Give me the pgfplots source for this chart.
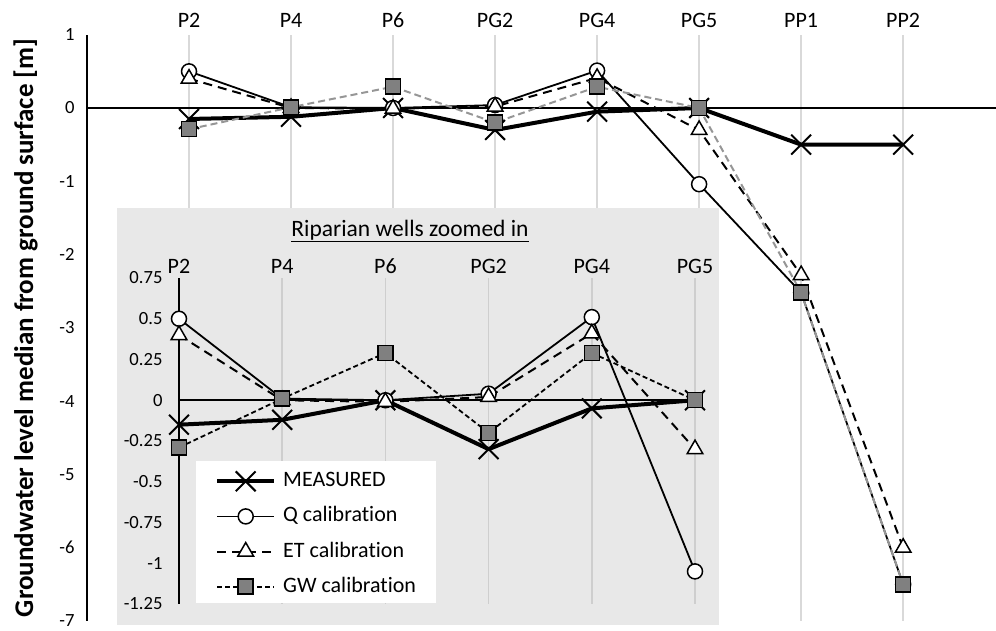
\documentclass[border=0pt]{standalone}
\usepackage{fontspec}
\setmainfont{Carlito}[Ligatures=NoCommon]
\usepackage{pgfplots}
\usepackage{pgfplotstable}
\pgfplotsset{compat=1.18}
\definecolor{gridmain}{RGB}{217,217,217}
\definecolor{gridinset}{RGB}{206,206,206}
\definecolor{insetbg}{RGB}{232,232,232}
\definecolor{gwfill}{RGB}{128,128,128}
\definecolor{gwline}{RGB}{150,150,150}

% all wells
\pgfplotstableread{
x   M      Q      ET     GW
1  -0.15   0.50   0.40  -0.29
2  -0.12   0.01   0.00   0.01
3   0.00   0.00  -0.01   0.29
4  -0.30   0.04   0.02  -0.20
5  -0.05   0.51   0.41   0.29
6   0.00  -1.04  -0.30   0.00
7  -0.50  -2.52  -2.28  -2.52
8  -0.50  -6.50  -6.00  -6.50
}\allwells

% riparian wells (inset)
\pgfplotstableread{
x   M      Q      ET     GW
1  -0.15   0.50   0.40  -0.29
2  -0.12   0.01   0.00   0.01
3   0.00   0.00  -0.01   0.29
4  -0.30   0.04   0.02  -0.20
5  -0.05   0.51   0.41   0.29
6   0.00  -1.05  -0.30   0.00
}\riparian

\pgfplotsset{
  meas/.style={black, line width=4pt, line join=round, mark=x, mark size=14pt,
    mark options={line width=2pt, solid}},
  qcal/.style={black, line width=1.8pt, mark=*, mark size=7.5pt,
    mark options={fill=white, draw=black, line width=1.5pt, solid}},
  etcal/.style={black, line width=2pt, dash pattern=on 9pt off 6pt, mark=triangle*, mark size=9pt,
    mark options={fill=white, draw=black, line width=1.5pt, solid}},
  gwcal/.style={black, line width=1.8pt, dash pattern=on 5pt off 3pt, mark=square*, mark size=7.5pt,
    mark options={fill=gwfill, draw=black, line width=1.5pt, solid}},
  gwmain/.style={gwline, line width=2pt, dash pattern=on 7pt off 4pt, mark=square*, mark size=7.5pt,
    mark options={fill=gwfill, draw=black, line width=1.5pt, solid}},
}

\begin{document}
\begin{tikzpicture}
\useasboundingbox (0,0) rectangle (996pt,631pt);
\begin{axis}[
  at={(87pt,10pt)}, anchor=south west,
  scale only axis, width=909pt, height=586.3pt,
  xmin=0, xmax=8.91, ymin=-7, ymax=1,
  axis line style={draw=none},
  xtick={1,...,8}, xticklabels={P2,P4,P6,PG2,PG4,PG5,PP1,PP2},
  xticklabel pos=upper,
  ytick={-7,-6,-5,-4,-3,-2,-1,0,1},
  major tick length=0pt,
  xmajorgrids, grid style={draw=gridmain, line width=2pt},
  xticklabel style={font=\fontsize{22}{26}\selectfont, yshift=3.4pt},
  yticklabel style={font=\fontsize{18.6}{22}\selectfont, xshift=-9pt},
  /pgf/number format/assume math mode=true,
  ylabel={Groundwater level median from ground surface [m]},
  every axis y label/.style={at={(axis description cs:-0.0594,0.5)}, rotate=90, anchor=base,
    font=\fontsize{27}{32}\selectfont\bfseries},
  clip=false,
]
\draw[black, line width=1.2pt] (axis cs:0,0) -- (axis cs:8.91,0);
\draw[black, line width=2.2pt] (axis cs:0,-7) -- (axis cs:0,1);
\addplot[meas] table[x=x, y=M] {\allwells};
\addplot[qcal] table[x=x, y=Q] {\allwells};
\addplot[etcal] table[x=x, y=ET] {\allwells};
\addplot[gwmain] table[x=x, y=GW] {\allwells};
\end{axis}

\fill[insetbg] (117pt,6pt) rectangle (719pt,423pt);

\begin{axis}[
  at={(179pt,27pt)}, anchor=south west,
  scale only axis, width=516pt, height=326pt,
  xmin=1, xmax=6, ymin=-1.25, ymax=0.75,
  axis line style={draw=none},
  xtick={1,...,6}, xticklabels={P2,P4,P6,PG2,PG4,PG5},
  xticklabel pos=upper,
  ytick={-1.25,-1,-0.75,-0.5,-0.25,0,0.25,0.5,0.75},
  major tick length=0pt,
  xmajorgrids, grid style={draw=gridinset, line width=1.5pt},
  xticklabel style={font=\fontsize{22}{26}\selectfont, yshift=0.7pt},
  yticklabel style={font=\fontsize{18.6}{22}\selectfont, xshift=-13pt},
  /pgf/number format/assume math mode=true,
  title={\underline{Riparian wells zoomed in}},
  title style={at={(axis description cs:0.4477,1.1100)}, anchor=base, font=\fontsize{23.5}{28}\selectfont},
  legend style={at={(axis description cs:0.0698,0.4300)}, anchor=north west, draw=none, fill=none,
    inner sep=0pt, row sep=0.5pt, font=\fontsize{22}{26}\selectfont,
    nodes={text height=15.5pt, text depth=4.5pt, inner xsep=7pt, inner ysep=7.3pt}},
  legend cell align=left,
  legend image code/.code={\draw[mark repeat=2,mark phase=2,#1] plot coordinates {(0pt,0pt) (28.5pt,0pt) (57pt,0pt)};},
  clip=false,
]
\fill[white] (axis cs:1.165,-0.374) rectangle (axis cs:3.490,-1.245);
\draw[black, line width=1.5pt] (axis cs:1,0) -- (axis cs:6,0);
\draw[black, line width=2.2pt] (axis cs:1,-1.25) -- (axis cs:1,0.75);
\addplot[meas] table[x=x, y=M] {\riparian};
\addlegendentry{MEASURED}
\addplot[qcal] table[x=x, y=Q] {\riparian};
\addlegendentry{Q calibration}
\addplot[etcal] table[x=x, y=ET] {\riparian};
\addlegendentry{ET calibration}
\addplot[gwcal] table[x=x, y=GW] {\riparian};
\addlegendentry{GW calibration}
\end{axis}
\end{tikzpicture}
\end{document}
